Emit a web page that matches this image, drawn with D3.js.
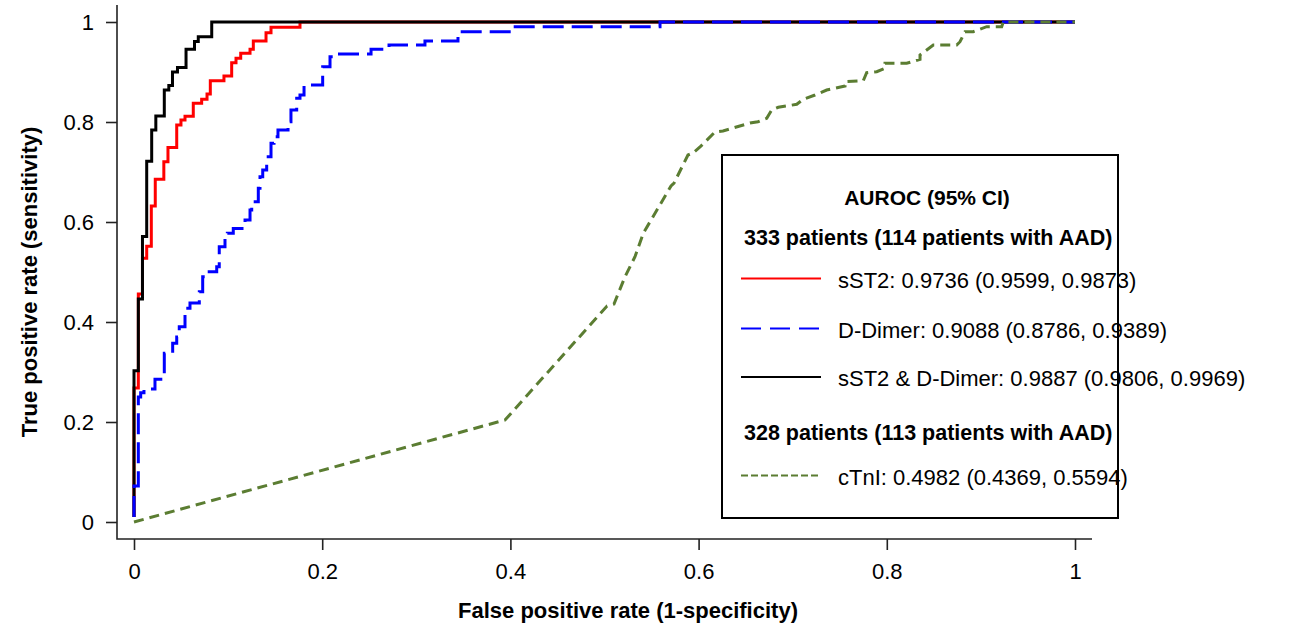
<!DOCTYPE html>
<html>
<head>
<meta charset="utf-8">
<script src="https://cdn.jsdelivr.net/npm/d3@7"></script>
<style>
  html, body { margin: 0; padding: 0; background: #fff; }
  svg { display: block; font-family: "Liberation Sans", Arial, sans-serif; }
</style>
</head>
<body>
<svg id="chart" width="1296" height="627"></svg>
<script>
// ---- data ----
// Step ROC curves: each point is the top of a vertical run at that FPR.
const fprSST2 = [0, 0, 0.0046, 0.009, 0.0135, 0.0184, 0.0226, 0.0317, 0.0361, 0.0454, 0.0499, 0.0542, 0.063, 0.0719, 0.0776, 0.0811, 0.0956, 0.1038, 0.1084, 0.1134, 0.1233, 0.1268, 0.1403, 0.1456, 0.1764, 1];
const tprSST2 = [0.01, 0.268, 0.456, 0.5274, 0.5514, 0.632, 0.6854, 0.7206, 0.749, 0.794, 0.804, 0.8114, 0.8374, 0.8454, 0.856, 0.8826, 0.892, 0.9186, 0.9274, 0.9374, 0.9454, 0.962, 0.9786, 0.9894, 1, 1];

const fprDDimer = [0, 0, 0.0046, 0.0071, 0.0106, 0.0223, 0.0322, 0.0411, 0.0454, 0.0481, 0.0542, 0.0595, 0.0694, 0.073, 0.0773, 0.0879, 0.0906, 0.0967, 0.0992, 0.1055, 0.118, 0.1233, 0.1251, 0.1321, 0.1339, 0.1368, 0.141, 0.1456, 0.1488, 0.153, 0.1637, 0.1668, 0.1729, 0.1764, 0.1807, 0.2005, 0.2083, 0.2115, 0.2519, 0.271, 0.3092, 0.3443, 0.4028, 0.559, 1];
const tprDDimer = [0.01, 0.072, 0.25, 0.2586, 0.266, 0.2854, 0.3374, 0.3574, 0.37, 0.3906, 0.4274, 0.438, 0.4606, 0.4906, 0.5006, 0.5106, 0.5506, 0.568, 0.5774, 0.587, 0.604, 0.624, 0.6406, 0.6674, 0.6906, 0.704, 0.7306, 0.7574, 0.7706, 0.784, 0.8006, 0.824, 0.8474, 0.854, 0.874, 0.9106, 0.9306, 0.936, 0.9454, 0.954, 0.962, 0.9806, 0.9906, 1, 1];

const fprCombo = [0, 0, 0.0046, 0.009, 0.0135, 0.0188, 0.0232, 0.0322, 0.037, 0.0409, 0.0462, 0.0553, 0.0643, 0.0683, 0.0826, 1];
const tprCombo = [0.01, 0.3026, 0.446, 0.571, 0.7214, 0.784, 0.812, 0.864, 0.8732, 0.9, 0.909, 0.9456, 0.9612, 0.9706, 1, 1];

// cTnI curve (drawn with straight segments)
const fprCTnI = [0, 0.3943, 0.5027, 0.5101, 0.5218, 0.5324, 0.5412, 0.5707, 0.5739, 0.5887, 0.594, 0.6015, 0.6174, 0.6259, 0.6546, 0.6631, 0.6724, 0.6777, 0.6847, 0.7043, 0.7113, 0.7237, 0.7361, 0.7556, 0.7556, 0.775, 0.7786, 0.7893, 0.7981, 0.7981, 0.8211, 0.8353, 0.8353, 0.8494, 0.8743, 0.8778, 0.8831, 0.8919, 0.9062, 0.9221, 0.9238, 1];
const tprCTnI = [0, 0.204, 0.432, 0.436, 0.4906, 0.5306, 0.5774, 0.672, 0.678, 0.734, 0.738, 0.75, 0.78, 0.782, 0.798, 0.8006, 0.8074, 0.824, 0.8294, 0.8354, 0.8454, 0.854, 0.864, 0.872, 0.8806, 0.8826, 0.8986, 0.9006, 0.9074, 0.9174, 0.9174, 0.9254, 0.934, 0.954, 0.954, 0.9606, 0.9806, 0.9806, 0.9906, 0.9906, 1, 1];

const tickValues = [0, 0.2, 0.4, 0.6, 0.8, 1];
const tickLabels = ["0", "0.2", "0.4", "0.6", "0.8", "1"];

const legendTitle = "AUROC (95% CI)";
const groupLabels = ["333 patients (114 patients with AAD)", "328 patients (113 patients with AAD)"];
const seriesNames = ["sST2: 0.9736 (0.9599, 0.9873)", "D-Dimer: 0.9088 (0.8786, 0.9389)", "sST2 & D-Dimer: 0.9887 (0.9806, 0.9969)", "cTnI: 0.4982 (0.4369, 0.5594)"];
const xTitle = "False positive rate (1-specificity)";
const yTitle = "True positive rate (sensitivity)";

// ---- drawing ----
const svg = d3.select("#chart");
const x = d3.scaleLinear().domain([0, 1]).range([134, 1075]);
const y = d3.scaleLinear().domain([0, 1]).range([522, 22]);

svg.append("rect").attr("width", 1296).attr("height", 627).attr("fill", "#fff");

// L-shaped box
svg.append("path")
  .attr("d", `M117,5 L117,539 L1092,539`)
  .attr("fill", "none").attr("stroke", "#222").attr("stroke-width", 1.6);

const xAxis = d3.axisBottom(x).tickValues(tickValues)
  .tickFormat((d, i) => tickLabels[i]).tickSize(11).tickPadding(13);
const gx = svg.append("g").attr("transform", "translate(0,539)").call(xAxis);
gx.select(".domain").remove();
gx.selectAll("line").attr("stroke", "#222").attr("stroke-width", 1.6);
gx.selectAll("text").attr("font-size", 22).attr("fill", "#000")
  .attr("font-family", '"Liberation Sans", Arial, sans-serif');

const yAxis = d3.axisLeft(y).tickValues(tickValues)
  .tickFormat((d, i) => tickLabels[i]).tickSize(11).tickPadding(12);
const gy = svg.append("g").attr("transform", "translate(117,0)").call(yAxis);
gy.select(".domain").remove();
gy.selectAll("line").attr("stroke", "#222").attr("stroke-width", 1.6);
gy.selectAll("text").attr("font-size", 22).attr("fill", "#000")
  .attr("font-family", '"Liberation Sans", Arial, sans-serif');

// axis titles
svg.append("text").attr("x", 628).attr("y", 610)
  .attr("text-anchor", "middle").attr("dominant-baseline", "central")
  .attr("font-size", 22).attr("font-weight", "bold").text(xTitle);
svg.append("text").attr("transform", "translate(29,282) rotate(-90)")
  .attr("text-anchor", "middle").attr("dominant-baseline", "central")
  .attr("font-size", 22).attr("font-weight", "bold").text(yTitle);

// curves
const stepLine = d3.line().x(d => x(d[0])).y(d => y(d[1])).curve(d3.curveStepAfter);
const straightLine = d3.line().x(d => x(d[0])).y(d => y(d[1]));

const series = [
  { pts: d3.zip(fprSST2, tprSST2), color: "#FF0000", dash: null, gen: stepLine },
  { pts: d3.zip(fprCombo, tprCombo), color: "#000000", dash: null, gen: stepLine },
  { pts: d3.zip(fprDDimer, tprDDimer), color: "#0000FF", dash: "21,8", gen: stepLine },
  { pts: d3.zip(fprCTnI, tprCTnI), color: "#5B7D32", dash: "10,6", gen: straightLine }
];
series.forEach(s => {
  svg.append("path").attr("d", s.gen(s.pts))
    .attr("fill", "none").attr("stroke", s.color).attr("stroke-width", 3)
    .attr("stroke-linejoin", "miter")
    .attr("stroke-dasharray", s.dash);
});

// legend
const lg = svg.append("g");
lg.append("rect").attr("x", 722).attr("y", 155).attr("width", 396).attr("height", 363)
  .attr("fill", "#fff").attr("stroke", "#000").attr("stroke-width", 2);
lg.append("text").attr("x", 927).attr("y", 197).attr("text-anchor", "middle")
  .attr("dominant-baseline", "central").attr("font-size", 21).attr("font-weight", "bold")
  .text(legendTitle);
const groupY = [238, 433];
groupLabels.forEach((g, i) => {
  lg.append("text").attr("x", 744).attr("y", groupY[i]).attr("dominant-baseline", "central")
    .attr("font-size", 21.5).attr("font-weight", "bold").text(g);
});
const legendItems = [
  { name: seriesNames[0], color: "#FF0000", dash: null, y: 278.5 },
  { name: seriesNames[1], color: "#0000FF", dash: "20,9", y: 328.5 },
  { name: seriesNames[2], color: "#000000", dash: null, y: 377 },
  { name: seriesNames[3], color: "#5B7D32", dash: "7,3", y: 475.5 }
];
legendItems.forEach(it => {
  lg.append("line").attr("x1", 741).attr("x2", 821).attr("y1", it.y).attr("y2", it.y)
    .attr("stroke", it.color).attr("stroke-width", 2.2).attr("stroke-dasharray", it.dash);
  lg.append("text").attr("x", 838).attr("y", it.y + 1.5).attr("dominant-baseline", "central")
    .attr("font-size", 22).text(it.name);
});
</script>
</body>
</html>
